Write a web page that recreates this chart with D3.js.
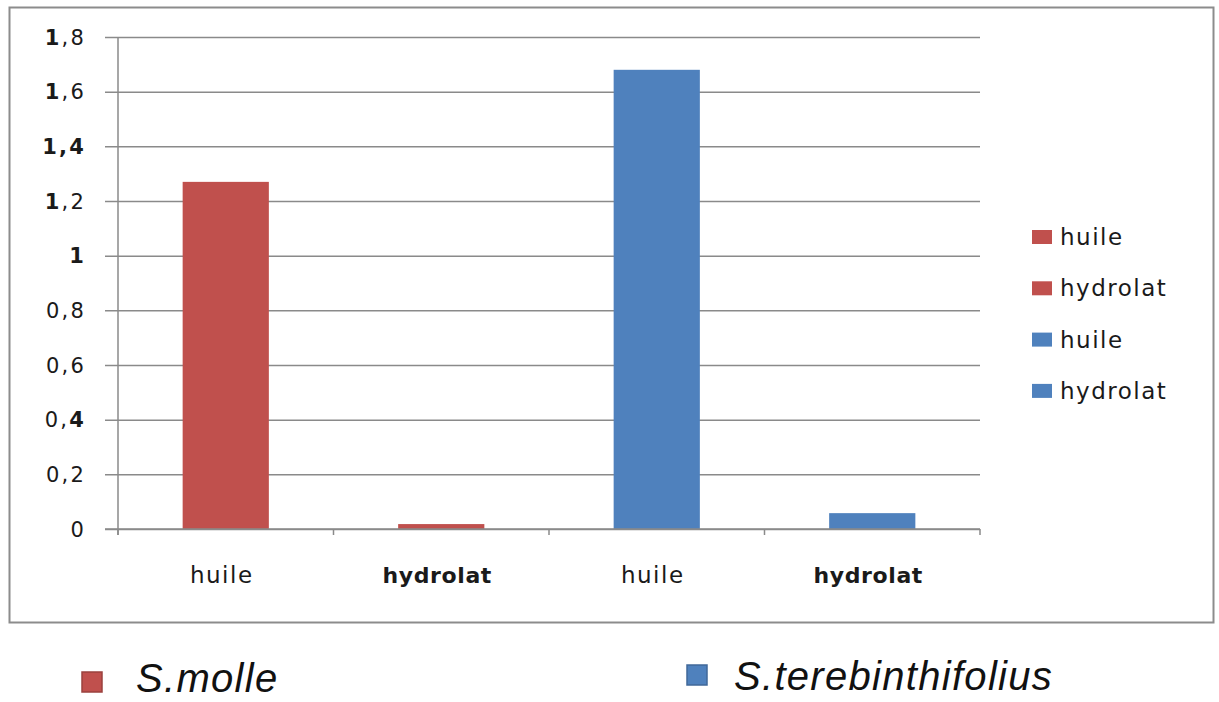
<!DOCTYPE html>
<html>
<head>
<meta charset="utf-8">
<script src="https://cdn.jsdelivr.net/npm/d3@7"></script>
<style>
  html, body { margin: 0; padding: 0; background: #ffffff; }
  svg { display: block; }
</style>
</head>
<body>
<svg id="chart" width="1219" height="702"></svg>
<script>
// Categories along the x axis (one bar per species / product pair)
const categories = ["huile", "hydrolat", "huile", "hydrolat"];
// Species owning each bar
const barSpecies = ["S.molle", "S.molle", "S.terebinthifolius", "S.terebinthifolius"];
// Bar values
const values = [1.27, 0.018, 1.68, 0.058];
// Species shown in the bottom legend
const species = ["S.molle", "S.terebinthifolius"];
// Y axis tick values and their labels (decimal comma)
const yTicks = [0, 0.2, 0.4, 0.6, 0.8, 1, 1.2, 1.4, 1.6, 1.8];
const yTickLabels = ["0", "0,2", "0,4", "0,6", "0,8", "1", "1,2", "1,4", "1,6", "1,8"];

const colors = { "S.molle": "#C0504D", "S.terebinthifolius": "#4F81BD" };
// Characters of each y label drawn heavier
const boldChars = {
  "1,8": [0], "1,6": [0], "1,4": [0, 1, 2], "1,2": [0], "1": [0], "0,4": [2]
};
// x labels drawn in bold
const boldCategories = { "hydrolat": true };

const svg = d3.select("#chart");
const gridColor = "#8a8a8a";
const labelFont = "DejaVu Sans, Verdana, sans-serif";

// Outer chart frame
svg.append("rect")
  .attr("x", 9.5).attr("y", 7.5)
  .attr("width", 1204).attr("height", 615)
  .attr("fill", "#ffffff")
  .attr("stroke", "#8c8c8c")
  .attr("stroke-width", 2);

const x = d3.scaleBand()
  .domain(d3.range(categories.length))
  .range([118, 980])
  .paddingInner(0.6)
  .paddingOuter(0.3);

const y = d3.scaleLinear().domain([0, 1.8]).range([529, 37]);

// Horizontal gridlines with left tick stubs
const yAxis = d3.axisLeft(y)
  .tickValues(yTicks)
  .tickSize(-(980 - 105))
  .tickFormat("");
const gy = svg.append("g")
  .attr("transform", "translate(980,0)")
  .call(yAxis);
gy.select(".domain").remove();
gy.selectAll(".tick line")
  .attr("stroke", gridColor)
  .attr("stroke-width", 1.5)
  .attr("x1", 0).attr("x2", -(980 - 105));

// Y axis line
svg.append("line")
  .attr("x1", 118).attr("x2", 118)
  .attr("y1", y(1.8)).attr("y2", y(0) + 6)
  .attr("stroke", gridColor).attr("stroke-width", 1.5);

// Y tick labels
const yl = svg.append("g")
  .attr("font-family", labelFont)
  .attr("font-size", 21)
  .attr("fill", "#1a1a1a")
  .attr("letter-spacing", 2.2);
yTicks.forEach((v, i) => {
  const label = yTickLabels[i];
  const t = yl.append("text")
    .attr("x", 86)
    .attr("y", y(v))
    .attr("dy", "0.36em")
    .attr("text-anchor", "end");
  const bold = boldChars[label] || [];
  label.split("").forEach((ch, j) => {
    t.append("tspan")
      .attr("font-weight", bold.includes(j) ? "bold" : "normal")
      .text(ch);
  });
});

// Bars
svg.append("g").selectAll("rect")
  .data(values)
  .join("rect")
  .attr("x", (d, i) => x(i))
  .attr("y", d => y(d))
  .attr("width", x.bandwidth())
  .attr("height", d => y(0) - y(d))
  .attr("fill", (d, i) => colors[barSpecies[i]]);

// X axis baseline and category separators
const step = x.step();
svg.append("line")
  .attr("x1", 105).attr("x2", 980)
  .attr("y1", y(0)).attr("y2", y(0))
  .attr("stroke", gridColor).attr("stroke-width", 1.5);
svg.append("g").selectAll("line")
  .data(d3.range(categories.length + 1))
  .join("line")
  .attr("x1", i => 118 + i * step).attr("x2", i => 118 + i * step)
  .attr("y1", y(0)).attr("y2", y(0) + 6)
  .attr("stroke", gridColor).attr("stroke-width", 1.5);

// X category labels
svg.append("g").selectAll("text")
  .data(categories)
  .join("text")
  .attr("x", (d, i) => x(i) + x.bandwidth() / 2 - 4)
  .attr("y", 583)
  .attr("text-anchor", "middle")
  .attr("font-family", labelFont)
  .attr("font-size", d => boldCategories[d] ? 22 : 23)
  .attr("font-weight", d => boldCategories[d] ? "bold" : "normal")
  .attr("letter-spacing", d => boldCategories[d] ? 0.6 : 1.5)
  .attr("fill", "#1a1a1a")
  .text(d => d);

// Right-hand legend: one entry per bar
const lg = svg.append("g");
categories.forEach((c, i) => {
  const cy = 237 + i * 51.3;
  lg.append("rect")
    .attr("x", 1032).attr("y", cy - 7)
    .attr("width", 20).attr("height", 14)
    .attr("fill", colors[barSpecies[i]]);
  lg.append("text")
    .attr("x", 1060).attr("y", cy + 8)
    .attr("font-family", labelFont)
    .attr("font-size", 23)
    .attr("letter-spacing", 1.5)
    .attr("fill", "#1a1a1a")
    .text(c);
});

// Bottom species legend
const bottom = [
  { sx: 82, sy: 672, tx: 136, ty: 692 },
  { sx: 687, sy: 665, tx: 734, ty: 690 }
];
species.forEach((s, i) => {
  const p = bottom[i];
  svg.append("rect")
    .attr("x", p.sx).attr("y", p.sy)
    .attr("width", 20).attr("height", 20)
    .attr("fill", colors[s])
    .attr("stroke", d3.color(colors[s]).darker(0.6))
    .attr("stroke-width", 1.5);
  svg.append("text")
    .attr("x", p.tx).attr("y", p.ty)
    .attr("font-family", "Liberation Sans, Arial, sans-serif")
    .attr("font-style", "italic")
    .attr("font-size", 40)
    .attr("letter-spacing", 1.3)
    .attr("fill", "#111111")
    .text(s);
});
</script>
</body>
</html>
